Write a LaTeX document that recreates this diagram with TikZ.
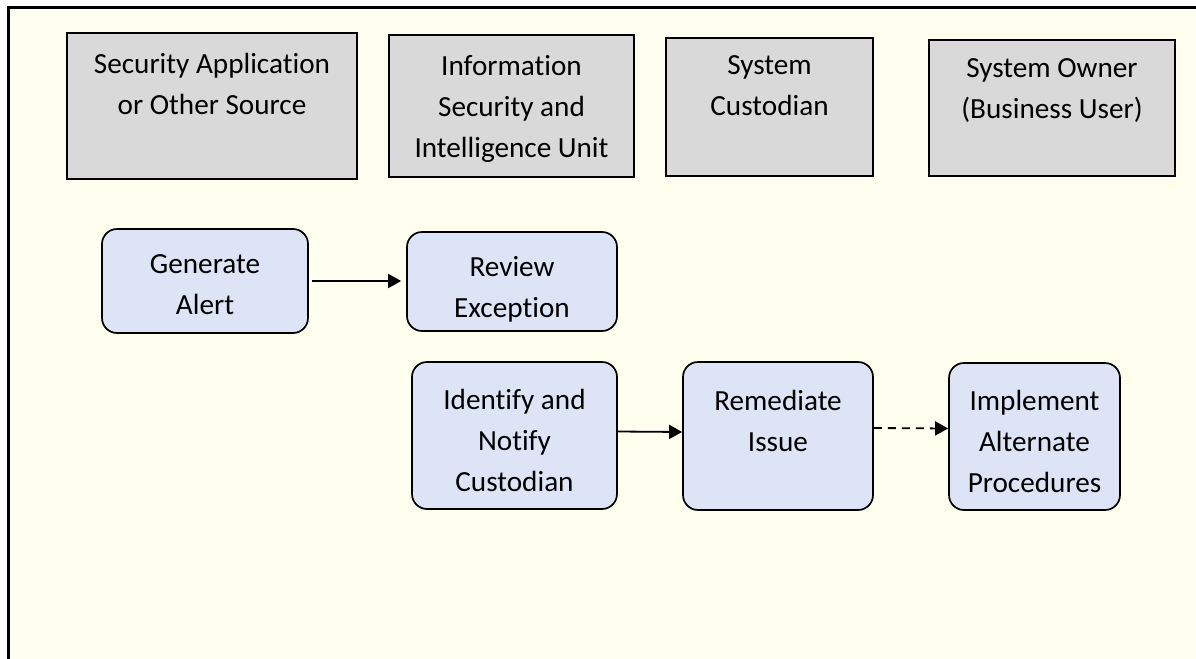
\documentclass[tikz,border=0pt]{standalone}
\usepackage{fontspec}
\setmainfont{Carlito}[Ligatures=NoCommon]
\usetikzlibrary{arrows.meta,fit}
\definecolor{bgyellow}{HTML}{FFFFEF}
\definecolor{boxgray}{HTML}{D9D9D9}
\definecolor{boxblue}{HTML}{DCE4F6}
\begin{document}
\begin{tikzpicture}[x=0.5pt,y=-0.5pt,
  graybox/.style={draw=black,line width=1pt,fill=boxgray,inner sep=0pt},
  bluebox/.style={draw=black,line width=0.85pt,fill=boxblue,rounded corners=7.5pt,inner sep=0pt},
  lbl/.style={anchor=base,inner sep=0pt,font=\fontsize{14.6}{20.5}\selectfont},
  arr/.style={line width=0.9pt,-{Triangle[length=6.5pt,width=7pt]}}]
\useasboundingbox (0,0) rectangle (1196,659);
\fill[white] (0,0) rectangle (1196,659);
\fill[bgyellow] (8.5,7.5) rectangle (1196,659);
\draw[line width=1.2pt] (8.5,659) -- (8.5,7.5) -- (1196,7.5);
% header boxes
\node[graybox,fit={(67,33) (357,179)}] (src) {};
\node[graybox,fit={(389,35) (634,177)}] (isu) {};
\node[graybox,fit={(666,38) (873,176)}] (cus) {};
\node[graybox,fit={(929,40) (1175,176)}] (own) {};
\node[lbl] (tsrc) at (212,73) {\begin{tabular}[t]{@{}c@{}}Security Application\\or Other Source\end{tabular}};
\node[lbl] (tisu) at (511.5,75) {\begin{tabular}[t]{@{}c@{}}Information\\Security and\\Intelligence Unit\end{tabular}};
\node[lbl] (tcus) at (769.5,74) {\begin{tabular}[t]{@{}c@{}}System\\Custodian\end{tabular}};
\node[lbl] (town) at (1052,77) {\begin{tabular}[t]{@{}c@{}}System Owner\\(Business User)\end{tabular}};
% process boxes
\node[bluebox,fit={(102,229) (308,333)}] (gen) {};
\node[bluebox,fit={(407,232) (617,331)}] (rev) {};
\node[bluebox,fit={(412,362) (617,509)}] (idn) {};
\node[bluebox,fit={(683,362) (873,510)}] (rem) {};
\node[bluebox,fit={(949,363) (1120,510)}] (imp) {};
\node[lbl] (tgen) at (205,273) {\begin{tabular}[t]{@{}c@{}}Generate\\Alert\end{tabular}};
\node[lbl] (trev) at (512,276) {\begin{tabular}[t]{@{}c@{}}Review\\Exception\end{tabular}};
\node[lbl] (tidn) at (514.5,409) {\begin{tabular}[t]{@{}c@{}}Identify and\\Notify\\Custodian\end{tabular}};
\node[lbl] (trem) at (778,410) {\begin{tabular}[t]{@{}c@{}}Remediate\\Issue\end{tabular}};
\node[lbl] (timp) at (1034.5,410) {\begin{tabular}[t]{@{}c@{}}Implement\\Alternate\\Procedures\end{tabular}};
% connectors
\draw[arr,shorten <=1.5pt,shorten >=2.5pt] (gen.east) -- (rev.west |- gen.east);
\draw[arr] ([yshift=2pt]idn.east) -- ([yshift=2pt]rem.west);
\draw[arr,dashed,dash pattern=on 4pt off 3pt] ([yshift=4pt]rem.east) -- ([yshift=4pt]imp.west);
\end{tikzpicture}
\end{document}
